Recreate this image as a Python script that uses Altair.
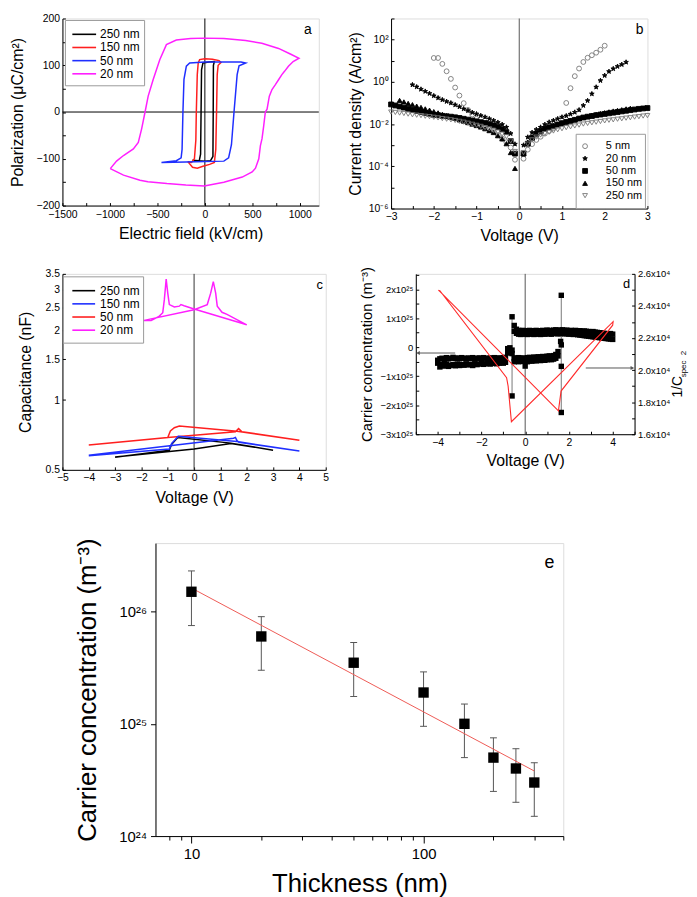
import altair as alt
import pandas as pd

FONT = "Liberation Sans"
NARROW = "Liberation Sans Narrow, Liberation Sans"

# ---------------- panel a : P-E loops ----------------
a_names = ["250 nm", "150 nm", "50 nm", "20 nm"]
a_colors = ["#000000", "#ff1f1f", "#1f2fff", "#ff1fff"]
a250_E = [-130, -60, -45, -40, -35, -20, 40, 100, 90, 88, 85, 60, 0, -130]
a250_P = [-103, -105, -90, 0, 90, 105, 107, 108, 100, 0, -95, -104, -105, -103]
a150_E = [-180, -140, -110, -95, -90, -80, -70, -55, 0, 80, 150, 170, 140, 130, 123, 115, 100, 50, -20, -80, -130, -180]
a150_P = [-106, -108, -100, -60, 0, 80, 105, 112, 114, 113, 110, 106, 100, 80, 0, -80, -108, -112, -116, -120, -118, -106]
a50_E = [-457, -300, -250, -240, -231, -220, -195, -160, 0, 200, 380, 430, 360, 340, 307, 280, 250, 200, 0, -200, -457]
a50_P = [-108, -104, -98, -80, 0, 70, 98, 105, 107, 107, 107, 105, 99, 80, 0, -70, -98, -105, -106, -107, -108]
a20_E = [-996, -930, -857, -753, -701, -666, -631, -597, -545, -475, -405, -301, -150, -6, 200, 429, 600, 776, 900, 991,
         930, 880, 839, 811, 776, 741, 707, 679, 655, 637, 620, 602, 585, 568, 533, 498, 394, 200, -6, -200,
         -400, -600, -683, -857, -996]
a20_P = [-121, -105, -93, -79, -65, -36, -1, 34, 69, 112, 144, 154, 157, 158, 157, 153, 147, 136, 124, 115,
         108, 98, 87, 80, 69, 58, 48, 34, 6, 0, -29, -57, -72, -100, -120, -128, -139, -150, -158, -156,
         -153, -149, -146, -135, -121]

# ---------------- panel b : J-V (log10 of A/cm2) ----------------
b_names = ["5 nm", "20 nm", "50 nm", "150 nm", "250 nm"]
b5_V = [-2.0, -1.9, -1.8, -1.7, -1.6, -1.5, -1.4, -1.3, -1.2, -1.1, -1.0, -0.9, -0.8, -0.7, -0.6, -0.5, -0.4, -0.3, -0.2, -0.1,
        0.1, 0.2, 0.3, 0.4, 0.5, 0.6, 0.7, 0.8, 0.9, 1.0, 1.1, 1.2, 1.3, 1.4, 1.5, 1.6, 1.7, 1.8, 1.9, 2.0]
b5_log = [1.13, 1.13, 0.85, 0.50, 0.14, -0.27, -0.65, -1.01, -1.33, -1.55, -1.75, -1.94, -2.06, -2.25, -2.38, -2.53, -2.69, -2.86, -3.11, -3.69,
          -3.64, -3.21, -2.95, -2.75, -2.60, -2.45, -2.33, -2.20, -2.08, -1.95, -1.00, -0.30, 0.27, 0.63, 0.94, 1.14, 1.26, 1.38, 1.52, 1.71]
b20_V = [-2.5, -2.4, -2.3, -2.2, -2.1, -2.0, -1.9, -1.8, -1.7, -1.6, -1.5, -1.4, -1.3, -1.2, -1.1, -1.0, -0.9, -0.8, -0.7, -0.6, -0.5, -0.4, -0.3, -0.2, -0.1,
         0.1, 0.2, 0.3, 0.4, 0.5, 0.6, 0.7, 0.8, 0.9, 1.0, 1.1, 1.2, 1.3, 1.4, 1.5, 1.6, 1.7, 1.8, 1.9, 2.0, 2.1, 2.2, 2.3, 2.4, 2.5]
b20_log = [-0.14, -0.24, -0.35, -0.45, -0.55, -0.66, -0.76, -0.85, -0.93, -1.00, -1.09, -1.18, -1.28, -1.36, -1.45, -1.52, -1.60, -1.67, -1.75, -1.83, -1.92, -2.02, -2.15, -2.45, -2.95,
           -3.00, -2.62, -2.40, -2.26, -2.15, -2.02, -1.91, -1.83, -1.75, -1.67, -1.61, -1.53, -1.44, -1.33, -1.12, -0.89, -0.57, -0.25, 0.06, 0.30, 0.49, 0.62, 0.73, 0.82, 0.93]
b50_V = [-3.0, -2.9, -2.8, -2.7, -2.6, -2.5, -2.4, -2.3, -2.2, -2.1, -2.0, -1.9, -1.8, -1.7, -1.6, -1.5, -1.4, -1.3, -1.2, -1.1, -1.0, -0.9, -0.8, -0.7, -0.6, -0.5, -0.4, -0.3, -0.2, -0.1,
         0.1, 0.2, 0.3, 0.4, 0.5, 0.6, 0.7, 0.8, 0.9, 1.0, 1.1, 1.2, 1.3, 1.4, 1.5, 1.6, 1.7, 1.8, 1.9, 2.0, 2.1, 2.2, 2.3, 2.4, 2.5, 2.6, 2.7, 2.8, 2.9, 3.0]
b50_log = [-1.07, -1.12, -1.17, -1.22, -1.28, -1.33, -1.38, -1.42, -1.47, -1.51, -1.56, -1.58, -1.61, -1.63, -1.65, -1.68, -1.71, -1.75, -1.79, -1.83, -1.87, -1.91, -1.95, -2.00, -2.06, -2.14, -2.24, -2.38, -2.80, -3.40,
           -3.40, -2.93, -2.65, -2.46, -2.34, -2.23, -2.15, -2.10, -2.02, -1.96, -1.90, -1.85, -1.80, -1.74, -1.69, -1.65, -1.62, -1.58, -1.55, -1.52, -1.49, -1.46, -1.43, -1.40, -1.37, -1.34, -1.31, -1.28, -1.26, -1.24]
b150_V = [-2.8, -2.7, -2.6, -2.5, -2.4, -2.3, -2.2, -2.1, -2.0, -1.9, -1.8, -1.7, -1.6, -1.5, -1.4, -1.3, -1.2, -1.1, -1.0, -0.9, -0.8, -0.7, -0.6, -0.5, -0.4, -0.3, -0.2, -0.1,
          0.1, 0.2, 0.3, 0.4, 0.5, 0.6, 0.7, 0.8, 0.9, 1.0, 1.1, 1.2, 1.3, 1.4, 1.5, 1.6, 1.7, 1.8, 1.9, 2.0, 2.1, 2.2, 2.3, 2.4, 2.5, 2.6]
b150_log = [-0.88, -0.95, -1.02, -1.08, -1.15, -1.21, -1.28, -1.34, -1.41, -1.47, -1.54, -1.60, -1.67, -1.73, -1.80, -1.86, -1.93, -2.00, -2.07, -2.14, -2.22, -2.31, -2.40, -2.55, -2.70, -2.93, -3.35, -4.10,
            -3.40, -2.85, -2.60, -2.43, -2.32, -2.22, -2.14, -2.07, -2.01, -1.95, -1.89, -1.83, -1.78, -1.73, -1.68, -1.63, -1.58, -1.54, -1.50, -1.46, -1.42, -1.38, -1.35, -1.32, -1.28, -1.25]
b250_V = b50_V
b250_log = [-1.43, -1.45, -1.48, -1.50, -1.53, -1.56, -1.58, -1.60, -1.63, -1.65, -1.68, -1.71, -1.74, -1.77, -1.80, -1.83, -1.87, -1.91, -1.96, -2.01, -2.06, -2.11, -2.17, -2.23, -2.30, -2.38, -2.48, -2.60, -2.80, -3.30,
            -3.35, -2.95, -2.75, -2.62, -2.52, -2.45, -2.39, -2.33, -2.27, -2.22, -2.17, -2.13, -2.09, -2.05, -2.00, -1.97, -1.94, -1.91, -1.88, -1.85, -1.82, -1.80, -1.77, -1.75, -1.72, -1.70, -1.67, -1.65, -1.62, -1.60]

# ---------------- panel c : C-V (nF) ----------------
c_names = ["250 nm", "150 nm", "50 nm", "20 nm"]
c_colors = ["#000000", "#1f2fff", "#ff1f1f", "#ff1fff"]
c250_V = [-3.0, -0.94, -0.85, -0.62, 1.4, 3.0, 1.4, 0.0, -3.0]
c250_C = [0.566, 0.608, 0.645, 0.690, 0.652, 0.608, 0.650, 0.615, 0.568]
c150_V = [-4.0, -1.0, -0.9, -0.75, -0.56, 1.63, 4.0, 1.82, 1.69, 1.57, -1.0]
c150_C = [0.640, 0.689, 0.735, 0.760, 0.773, 0.734, 0.671, 0.730, 0.753, 0.730, 0.690]
c50_V = [-4.0, -0.94, -0.85, -0.6, 1.63, 4.0, 1.7, 1.63, 1.57, 1.5, -4.0]
c50_C = [0.575, 0.615, 0.650, 0.698, 0.662, 0.603, 0.657, 0.668, 0.690, 0.684, 0.578]
c20_V = [-1.94, 0.0, 0.5, 0.63, 0.73, 0.82, 0.88, 1.06, 1.25, 2.0,
         0.0, -0.38, -0.5, -0.56, -0.75, -0.94, -1.0, -1.06, -1.13, -1.19, -1.32, -1.63, -1.94]
c20_C = [2.20, 2.45, 2.58, 2.89, 3.24, 2.89, 2.54, 2.39, 2.34, 2.11,
         2.47, 2.55, 2.58, 2.54, 2.52, 2.58, 2.89, 3.32, 2.71, 2.38, 2.30, 2.20, 2.20]

# ---------------- panel d : carrier conc. (x1e25 m-3) and 1/C^2 (x1e4) ----------------
d_low_V = [-4.0, -3.9, -3.8, -3.7, -3.6, -3.5, -3.4, -3.3, -3.2, -3.1, -3.0, -2.9, -2.8, -2.7, -2.6, -2.5, -2.4, -2.3, -2.2, -2.1,
           -2.0, -1.9, -1.8, -1.7, -1.6, -1.5, -1.4, -1.3, -1.2, -1.1, -1.0, -0.9, -0.8, -0.7, -0.6, -0.5, -0.4, -0.3, -0.2, -0.1,
           0.0, 0.1, 0.2, 0.3, 0.4, 0.5, 0.6, 0.7, 0.8, 0.9, 1.0, 1.1, 1.2, 1.3, 1.4, 1.5]
d_low_N1 = [-0.45, -0.40, -0.38, -0.42, -0.36, -0.40, -0.38, -0.35, -0.39, -0.37, -0.40, -0.36, -0.38, -0.41, -0.37, -0.39, -0.36, -0.40, -0.38, -0.37,
            -0.39, -0.36, -0.38, -0.40, -0.37, -0.38, -0.36, -0.39, -0.37, -0.38, -0.36, -0.35, -0.05, -0.02, -0.10, -0.38, -0.37, -0.36, -0.38, -0.37,
            -0.45, -0.36, -0.35, -0.36, -0.34, -0.35, -0.33, -0.34, -0.32, -0.33, -0.31, -0.30, -0.31, -0.29, -0.25, -0.15]
d_low_N2 = [-0.55, -0.68, -0.60, -0.65, -0.58, -0.66, -0.62, -0.60, -0.64, -0.58, -0.63, -0.60, -0.62, -0.58, -0.61, -0.59, -0.63, -0.57, -0.60, -0.58,
            -0.56, -0.59, -0.57, -0.55, -0.58, -0.56, -0.54, -0.57, -0.55, -0.53, -0.55, -0.52, -0.20, -0.15, -0.22, -0.50, -0.48, -0.50, -0.47, -0.49,
            -0.65, -0.50, -0.47, -0.48, -0.46, -0.47, -0.45, -0.46, -0.44, -0.45, -0.43, -0.42, -0.43, -0.41, -0.38, -0.30]
d_up_V = [-0.5, -0.4, -0.3, -0.2, -0.1, 0.0, 0.1, 0.2, 0.3, 0.4, 0.5, 0.6, 0.7, 0.8, 0.9, 1.0, 1.1, 1.2, 1.3, 1.4, 1.5, 1.6, 1.7,
          1.8, 1.9, 2.0, 2.1, 2.2, 2.3, 2.4, 2.5, 2.6, 2.7, 2.8, 2.9, 3.0, 3.1, 3.2, 3.3, 3.4, 3.5, 3.6, 3.7, 3.8, 3.9, 4.0]
d_up_N1 = [0.75, 0.62, 0.58, 0.57, 0.58, 0.56, 0.57, 0.58, 0.56, 0.57, 0.58, 0.57, 0.56, 0.58, 0.57, 0.59, 0.58, 0.57, 0.59, 0.60, 0.58, 0.59, 0.60,
           0.58, 0.59, 0.57, 0.58, 0.57, 0.58, 0.56, 0.57, 0.55, 0.56, 0.55, 0.54, 0.53, 0.54, 0.52, 0.51, 0.50, 0.49, 0.48, 0.47, 0.46, 0.47, 0.45]
d_up_N2 = [0.55, 0.48, 0.45, 0.44, 0.46, 0.45, 0.44, 0.46, 0.45, 0.44, 0.46, 0.45, 0.44, 0.46, 0.45, 0.47, 0.46, 0.45, 0.47, 0.48, 0.46, 0.47, 0.48,
           0.46, 0.47, 0.45, 0.46, 0.44, 0.45, 0.43, 0.42, 0.41, 0.40, 0.39, 0.38, 0.37, 0.36, 0.35, 0.34, 0.33, 0.32, 0.31, 0.30, 0.29, 0.28, 0.27]
d_spike_V = [-0.6, -0.6, 1.65, 1.65, 1.65, 1.65, 1.62]
d_spike_N = [1.05, -1.68, 1.79, -2.25, -0.66, 0.08, 0.20]
d_spk_line_V = [-0.6, 1.65]
d_spk_line_top = [1.05, 1.79]
d_spk_line_bot = [-1.68, -2.25]
d_red_V = [-3.97, -3.90, -0.85, -0.78, -0.63, 4.02, 4.00, 1.64, 1.52, -3.88, -3.97]
d_red_R = [2.497, 2.495, 1.952, 1.900, 1.678, 2.302, 2.280, 1.869, 1.746, 2.488, 2.497]
d_arrowL = {"x1": [-3.2], "x2": [-4.9], "y": [-0.2]}
d_arrowR = {"x1": [2.77], "x2": [4.9], "y": [2.013]}

# ---------------- panel e : carrier concentration vs thickness ----------------
e_t = [10, 20, 50, 100, 150, 200, 250, 300]
e_n = [1.5e26, 6.0e25, 3.5e25, 1.9e25, 1.0e25, 5.0e24, 4.0e24, 3.0e24]
e_lo = [7.5e25, 3.0e25, 1.75e25, 9.5e24, 5.0e24, 2.5e24, 2.0e24, 1.5e24]
e_hi = [2.3e26, 9.0e25, 5.3e25, 2.9e25, 1.5e25, 7.5e24, 6.0e24, 4.5e24]
fit_t = [10, 300]
fit_n = [1.62e26, 3.8e24]

INWARD = {"expr": "-3"}
ONE = pd.DataFrame({"z": [0]})


def axis(title, values=None, label_expr=None, fmt=None, tick=INWARD, lpad=6, tpad=4,
         lsize=10.5, tsize=16, lfont=NARROW, **kw):
    d = dict(title=title, labelFont=lfont, labelFontSize=lsize, titleFont=FONT, titleFontSize=tsize,
             titleFontWeight="normal", labelColor="black", titleColor="black", domainColor="black",
             tickColor="black", grid=False, tickSize=tick, labelPadding=lpad, titlePadding=tpad,
             labelOverlap=False, labelFlush=False)
    if values is not None:
        d["values"] = values
    if label_expr is not None:
        d["labelExpr"] = label_expr
    if fmt is not None:
        d["format"] = fmt
    d.update(kw)
    return alt.Axis(**d)


def text_at(t, x, y, size=13, align="center", angle=0):
    return alt.Chart(pd.DataFrame({"t": [t]})).mark_text(
        font=FONT, fontSize=size, align=align, baseline="middle", color="black", angle=angle
    ).encode(x=alt.value(x), y=alt.value(y), text="t:N")


def spacer(w, h):
    return alt.Chart(ONE).mark_point(opacity=0, size=1).encode(
        x=alt.value(0), y=alt.value(0)
    ).properties(width=w, height=h, view=alt.ViewBackground(stroke="transparent"))


def box(x1, x2, y1, y2):
    return alt.Chart(ONE).mark_rect(fill="white", stroke="#9a9a9a", strokeWidth=1).encode(
        x=alt.value(x1), x2=alt.value(x2), y=alt.value(y1), y2=alt.value(y2))


def line_legend(names, colors, bx1, bx2, by1, by2, row0, dy, lx1, lx2, tx, size=12):
    parts = [box(bx1, bx2, by1, by2)]
    for i, (nm, col) in enumerate(zip(names, colors)):
        y = row0 + i * dy
        parts.append(alt.Chart(ONE).mark_rule(color=col, strokeWidth=1.6).encode(
            x=alt.value(lx1), x2=alt.value(lx2), y=alt.value(y)))
        parts.append(text_at(nm, tx, y, size, align="left"))
    return parts


# ======== panel a ========
rows = []
for nm, E, P in zip(a_names, [a250_E, a150_E, a50_E, a20_E], [a250_P, a150_P, a50_P, a20_P]):
    for i, (e, p) in enumerate(zip(E, P)):
        rows.append({"s": nm, "E": e, "P": p, "o": i})
dfa = pd.DataFrame(rows)
xa = alt.Scale(domain=[-1500, 1200], nice=False, zero=False)
ya = alt.Scale(domain=[-200, 200], nice=False, zero=False)
ax_a_x = axis("Electric field (kV/cm)", values=list(range(-1500, 1001, 250)),
              label_expr="datum.value % 500 == 0 ? format(datum.value, 'd') : ''", tpad=6, lpad=7)
ax_a_y = axis("Polarization (μC/cm²)", values=list(range(-200, 201, 50)),
              label_expr="datum.value % 100 == 0 ? format(datum.value, 'd') : ''", tpad=11)
a_lines = alt.Chart(dfa).mark_line(strokeWidth=1.5).encode(
    x=alt.X("E:Q", scale=xa, axis=ax_a_x),
    y=alt.Y("P:Q", scale=ya, axis=ax_a_y),
    color=alt.Color("s:N", scale=alt.Scale(domain=a_names, range=a_colors), legend=None),
    order="o:Q",
)
a_v = alt.Chart(pd.DataFrame({"E": [0]})).mark_rule(color="black", strokeWidth=1).encode(x=alt.X("E:Q", scale=xa, axis=ax_a_x))
a_h = alt.Chart(pd.DataFrame({"P": [0]})).mark_rule(color="black", strokeWidth=1).encode(y=alt.Y("P:Q", scale=ya, axis=ax_a_y))
a_leg = line_legend(a_names, a_colors, 3, 83, 2, 68, 16, 13.3, 10, 34, 38)
panel_a = alt.layer(a_v, a_h, a_lines, *a_leg, text_at("a", 248, 12, 14)).properties(width=259, height=189)

# ======== panel b ========
rows = []
for nm, V, L in zip(b_names, [b5_V, b20_V, b50_V, b150_V, b250_V], [b5_log, b20_log, b50_log, b150_log, b250_log]):
    for v, l in zip(V, L):
        rows.append({"s": nm, "V": v, "J": 10 ** l})
dfb = pd.DataFrame(rows)
star = "M0,-1L0.235,-0.324L0.951,-0.309L0.38,0.124L0.588,0.809L0,0.4L-0.588,0.809L-0.38,0.124L-0.951,-0.309L-0.235,-0.324Z"
b_shapes = ["circle", star, "square", "triangle-up", "triangle-down"]
b_fill = ["transparent", "#000000", "#000000", "#000000", "transparent"]
b_stroke = ["#777777", "#000000", "#000000", "#000000", "#777777"]
xb = alt.Scale(domain=[-3, 3], nice=False, zero=False)
yb = alt.Scale(type="log", domain=[1e-6, 1e3], nice=False)
sup = "['⁻⁶','⁻⁵','⁻⁴','⁻³','⁻²','⁻¹','⁰','¹','²','³']"
ax_b_x = axis("Voltage (V)", values=[-3, -2.5, -2, -1.5, -1, -0.5, 0, 0.5, 1, 1.5, 2, 2.5, 3],
              label_expr="datum.value % 1 == 0 ? format(datum.value, 'd') : ''", tpad=6)
ax_b_y = axis("Current density (A/cm²)", values=[1e-6, 1e-5, 1e-4, 1e-3, 1e-2, 1e-1, 1, 10, 100, 1000],
              label_expr="round(log(datum.value)/LN10) % 2 == 0 ? '10' + " + sup + "[round(log(datum.value)/LN10) + 6] : ''",
              tpad=5)
b_pts = alt.Chart(dfb).mark_point(size=24, strokeWidth=0.9, opacity=1).encode(
    x=alt.X("V:Q", scale=xb, axis=ax_b_x),
    y=alt.Y("J:Q", scale=yb, axis=ax_b_y),
    shape=alt.Shape("s:N", scale=alt.Scale(domain=b_names, range=b_shapes), legend=None),
    fill=alt.Fill("s:N", scale=alt.Scale(domain=b_names, range=b_fill), legend=None),
    stroke=alt.Stroke("s:N", scale=alt.Scale(domain=b_names, range=b_stroke), legend=None),
)
b_v = alt.Chart(pd.DataFrame({"V": [0]})).mark_rule(color="#555555", strokeWidth=1).encode(x=alt.X("V:Q", scale=xb, axis=ax_b_x))
b_leg = [box(187, 257, 117, 192)]
for i, (nm, shp, fl, st) in enumerate(zip(b_names, b_shapes, b_fill, b_stroke)):
    yy = 129 + i * 12.5
    b_leg.append(alt.Chart(ONE).mark_point(size=24, strokeWidth=0.9, opacity=1).encode(
        x=alt.value(196), y=alt.value(yy), shape=alt.value(shp), fill=alt.value(fl), stroke=alt.value(st)))
    b_leg.append(text_at(nm, 217, yy, 11, align="left"))
panel_b = alt.layer(b_v, b_pts, *b_leg, text_at("b", 251, 12, 14)).properties(width=259, height=192)

# ======== panel c ========
rows = []
for nm, V, C in zip(c_names, [c250_V, c150_V, c50_V, c20_V], [c250_C, c150_C, c50_C, c20_C]):
    for i, (v, cc) in enumerate(zip(V, C)):
        rows.append({"s": nm, "V": v, "C": cc, "o": i})
dfc = pd.DataFrame(rows)
xc = alt.Scale(domain=[-5, 5], nice=False, zero=False)
yc = alt.Scale(type="log", domain=[0.5, 3.5], nice=False)
ax_c_x = axis("Voltage (V)", values=list(range(-5, 6)), fmt="d", tpad=6)
ax_c_y = axis("Capacitance (nF)", values=[0.5, 1, 1.5, 2, 2.5, 3, 3.5], fmt="~g", tpad=12)
c_lines = alt.Chart(dfc).mark_line(strokeWidth=1.5).encode(
    x=alt.X("V:Q", scale=xc, axis=ax_c_x),
    y=alt.Y("C:Q", scale=yc, axis=ax_c_y),
    color=alt.Color("s:N", scale=alt.Scale(domain=c_names, range=c_colors), legend=None),
    order="o:Q",
)
c_v = alt.Chart(pd.DataFrame({"V": [0]})).mark_rule(color="#333333", strokeWidth=1).encode(x=alt.X("V:Q", scale=xc, axis=ax_c_x))
c_leg = line_legend(c_names, c_colors, 1, 82, 3, 70, 17, 13.3, 10, 33, 38)
panel_c = alt.layer(c_v, c_lines, *c_leg, text_at("c", 260, 11, 13)).properties(width=266, height=198)

# ======== panel d ========
sq_rows = []
for V, N in [(d_low_V, d_low_N1), (d_low_V, d_low_N2), (d_up_V, d_up_N1), (d_up_V, d_up_N2), (d_spike_V, d_spike_N)]:
    for v, n in zip(V, N):
        sq_rows.append({"V": v, "N": n})
dfd_sq = pd.DataFrame(sq_rows)
dfd_spk = pd.DataFrame({"V": d_spk_line_V, "N": d_spk_line_top, "N2": d_spk_line_bot})
dfd_red = pd.DataFrame({"V": d_red_V, "R": d_red_R, "o": list(range(len(d_red_V)))})
xd = alt.Scale(domain=[-5, 5], nice=False, zero=False)
yd = alt.Scale(domain=[-3, 2.53], nice=False, zero=False)
yr = alt.Scale(domain=[1.6, 2.6], nice=False, zero=False)
ax_d_x = axis("Voltage (V)", values=list(range(-5, 6)),
              label_expr="datum.value % 2 == 0 ? format(datum.value, 'd') : ''", tpad=5)
ax_d_y = axis("Carrier concentration (m⁻³)", values=[-3, -2.5, -2, -1.5, -1, -0.5, 0, 0.5, 1, 1.5, 2, 2.5],
              label_expr="datum.value == 0 ? '0' : (datum.value % 1 == 0 ? format(datum.value, 'd') + 'x10²⁵' : '')",
              lsize=9.5, tsize=15, tpad=6, orient="left")
ax_d_r = axis(None, values=[1.6, 1.7, 1.8, 1.9, 2.0, 2.1, 2.2, 2.3, 2.4, 2.5, 2.6],
              label_expr="round(datum.value * 10) % 2 == 0 ? format(datum.value, '.1f') + 'x10⁴' : ''",
              lsize=9.5, orient="right")
d_sq = alt.Chart(dfd_sq).mark_square(size=30, color="black", opacity=1).encode(
    x=alt.X("V:Q", scale=xd, axis=ax_d_x), y=alt.Y("N:Q", scale=yd, axis=ax_d_y))
d_spk = alt.Chart(dfd_spk).mark_rule(color="#777777", strokeWidth=1).encode(
    x=alt.X("V:Q", scale=xd, axis=ax_d_x), y=alt.Y("N:Q", scale=yd, axis=ax_d_y), y2="N2:Q")
dfa_l = pd.DataFrame(d_arrowL)
d_arl = alt.Chart(dfa_l).mark_rule(color="#555555", strokeWidth=1).encode(
    x=alt.X("x1:Q", scale=xd, axis=ax_d_x), x2="x2:Q", y=alt.Y("y:Q", scale=yd, axis=ax_d_y))
d_arl_h = alt.Chart(dfa_l).mark_point(shape="triangle-left", filled=True, size=18, color="#555555", opacity=1).encode(
    x=alt.X("x2:Q", scale=xd, axis=ax_d_x), y=alt.Y("y:Q", scale=yd, axis=ax_d_y))
d_left = alt.layer(d_spk, d_sq, d_arl, d_arl_h)
d_red = alt.Chart(dfd_red).mark_line(color="#ff2a2a", strokeWidth=1.1).encode(
    x=alt.X("V:Q", scale=xd, axis=ax_d_x), y=alt.Y("R:Q", scale=yr, axis=ax_d_r), order="o:Q")
dfa_r = pd.DataFrame(d_arrowR)
d_arr = alt.Chart(dfa_r).mark_rule(color="#555555", strokeWidth=1).encode(
    x=alt.X("x1:Q", scale=xd, axis=ax_d_x), x2="x2:Q", y=alt.Y("y:Q", scale=yr, axis=ax_d_r))
d_arr_h = alt.Chart(dfa_r).mark_point(shape="triangle-right", filled=True, size=18, color="#555555", opacity=1).encode(
    x=alt.X("x2:Q", scale=xd, axis=ax_d_x), y=alt.Y("y:Q", scale=yr, axis=ax_d_r))
d_right = alt.layer(d_red, d_arr, d_arr_h)
d_zero = alt.Chart(pd.DataFrame({"V": [0]})).mark_rule(color="#555555", strokeWidth=1).encode(x=alt.X("V:Q", scale=xd, axis=ax_d_x))

panel_d = alt.layer(
    d_zero, d_left, d_right, text_at("d", 213, 10, 13),
    text_at("1/C", 265, 114, 14, angle=270), text_at("spec", 271, 96, 8, angle=270), text_at("2", 271, 80, 8, angle=270),
).resolve_scale(y="independent").properties(width=221, height=162)

# ======== panel e ========
dfe = pd.DataFrame({"t": e_t, "n": e_n, "lo": e_lo, "hi": e_hi})
dff = pd.DataFrame({"t": fit_t, "n": fit_n})
xe = alt.Scale(type="log", domain=[7, 400], nice=False)
ye = alt.Scale(type="log", domain=[1e24, 4.07e26], nice=False)
ax_e_x = axis("Thickness (nm)", values=[8, 9, 10, 20, 30, 40, 50, 60, 70, 80, 90, 100, 200, 300, 400],
              label_expr="(datum.value == 10 || datum.value == 100) ? format(datum.value, 'd') : ''",
              tick={"condition": {"test": "datum.value == 10 || datum.value == 100", "value": 7}, "value": 4},
              lpad=4, tpad=9, lsize=15, tsize=26, lfont=FONT)
ax_e_y = axis("Carrier concentration (m⁻³)", values=[1e24, 1e25, 1e26],
              label_expr="datum.value > 3e25 ? '10²⁶' : (datum.value > 3e24 ? '10²⁵' : '10²⁴')",
              tick=5, lpad=4, tpad=18, lsize=15, tsize=26, lfont=FONT)
e_err = alt.Chart(dfe).mark_rule(color="#555555", strokeWidth=1).encode(
    x=alt.X("t:Q", scale=xe, axis=ax_e_x), y=alt.Y("lo:Q", scale=ye, axis=ax_e_y), y2="hi:Q")
e_cap_lo = alt.Chart(dfe).mark_tick(orient="horizontal", size=7, thickness=1, color="#555555", opacity=1).encode(
    x=alt.X("t:Q", scale=xe, axis=ax_e_x), y=alt.Y("lo:Q", scale=ye, axis=ax_e_y))
e_cap_hi = alt.Chart(dfe).mark_tick(orient="horizontal", size=7, thickness=1, color="#555555", opacity=1).encode(
    x=alt.X("t:Q", scale=xe, axis=ax_e_x), y=alt.Y("hi:Q", scale=ye, axis=ax_e_y))
e_fit = alt.Chart(dff).mark_line(color="#ee5a55", strokeWidth=1).encode(
    x=alt.X("t:Q", scale=xe, axis=ax_e_x), y=alt.Y("n:Q", scale=ye, axis=ax_e_y))
e_pts = alt.Chart(dfe).mark_square(size=110, color="black", opacity=1).encode(
    x=alt.X("t:Q", scale=xe, axis=ax_e_x), y=alt.Y("n:Q", scale=ye, axis=ax_e_y))
panel_e = alt.layer(e_err, e_cap_lo, e_cap_hi, e_fit, e_pts, text_at("e", 398, 20, 18)).properties(width=412, height=296)

# ======== layout ========
row1 = alt.hconcat(panel_a, panel_b, spacing=27)
row2 = alt.hconcat(panel_c, panel_d, spacing=29)
row3 = alt.hconcat(spacer(11, 1), panel_e, spacing=0)

chart = alt.vconcat(alt.vconcat(row1, row2, spacing=22), row3, spacing=32).properties(
    padding={"left": 0, "top": 0, "right": 0, "bottom": 0}
).configure_view(stroke="#111111", strokeWidth=1).configure(font=FONT)

chart.save("out.html", embed_options={"renderer": "svg", "actions": False})
